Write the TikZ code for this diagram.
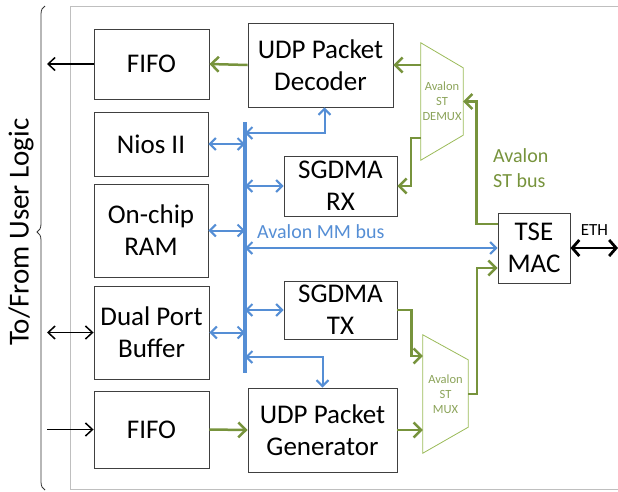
\documentclass[tikz,border=0pt]{standalone}
\usepackage{fontspec}
\setmainfont{Carlito}
\usetikzlibrary{arrows.meta,decorations.pathreplacing}
\definecolor{mmblue}{HTML}{558ED5}
\definecolor{stgreen}{HTML}{77933C}
\definecolor{stlight}{HTML}{9BBB59}

\begin{document}
\begin{tikzpicture}[
    x=1pt, y=-1pt,
    block/.style={rectangle, draw=black!75, line width=0.9pt, inner sep=0pt, align=center, font=\fontsize{27}{32}\selectfont},
    muxbox/.style={rectangle, inner sep=0pt, minimum width=44pt, align=center, text=stgreen!85, font=\fontsize{12.5}{15}\selectfont},
    trap/.style={draw=stlight, line width=0.8pt},
    mmlink/.style={{Straight Barb[length=6pt,width=12pt]}-{Straight Barb[length=6pt,width=12pt]}, mmblue, line width=2pt},
    mmbus/.style={mmblue, line width=4.5pt},
    stlink/.style={-{Straight Barb[length=7.5pt,width=15pt]}, stgreen, line width=2.5pt},
    extlink/.style={-{Straight Barb[length=7pt,width=13pt]}, black, line width=1.5pt},
    extboth/.style={{Straight Barb[length=7pt,width=13pt]}-{Straight Barb[length=7pt,width=13pt]}, black, line width=1.5pt},
    ethlink/.style={{Straight Barb[length=7pt,width=16pt]}-{Straight Barb[length=7pt,width=16pt]}, black, line width=2.8pt}
]
\useasboundingbox (0,0) rectangle (618,491);

% --- Frame and user side ---
\draw[black!25, line width=0.8pt] (70,6) rectangle (640,489);
\draw[black!80, line width=0.8pt, decorate, decoration={brace, amplitude=8pt, aspect=0.533}] (45,490) -- (45,6);
\node[rotate=90, font=\fontsize{29}{34}\selectfont] (userlogic) at (21,232) {To/From User Logic};

% --- Blocks ---
\node[block, minimum width=115pt, minimum height=70pt] (fifoout) at (151.5,64) {FIFO};
\node[block, minimum width=114pt, minimum height=64pt] (nios) at (151,144) {Nios II};
\node[block, minimum width=114pt, minimum height=93pt] (ram) at (151,230.5) {On-chip\\RAM};
\node[block, minimum width=115pt, minimum height=93pt] (dual) at (151.5,332.5) {Dual Port\\Buffer};
\node[block, minimum width=115pt, minimum height=77pt] (fifoin) at (151.5,429.5) {FIFO};
\node[block, minimum width=145pt, minimum height=84pt] (dec) at (320.5,65) {UDP Packet\\Decoder};
\node[block, minimum width=113pt, minimum height=60pt] (rx) at (340.5,186) {SGDMA\\RX};
\node[block, minimum width=113pt, minimum height=58pt] (tx) at (340.5,310) {SGDMA\\TX};
\node[block, minimum width=149pt, minimum height=84pt] (gen) at (322.5,430) {UDP Packet\\Generator};
\node[block, minimum width=72pt, minimum height=70pt] (mac) at (534,248) {TSE\\MAC};

% --- Avalon ST mux/demux ---
\node[muxbox, minimum width=42pt, minimum height=117pt] (demux) at (442,101.5) {Avalon\\ST\\DEMUX};
\node[muxbox, minimum width=45pt, minimum height=118pt] (mux) at (445.5,394) {Avalon\\ST\\MUX};
\draw[trap] (demux.north west) -- (demux.south west) -- ([yshift=25pt]demux.south east) -- ([yshift=-25pt]demux.north east) -- cycle;
\draw[trap] (mux.north west) -- (mux.south west) -- ([yshift=26pt]mux.south east) -- ([yshift=-25pt]mux.north east) -- cycle;

% --- Avalon MM bus ---
\coordinate (bustop) at (245,122);
\coordinate (busbot) at (245,373);
\draw[mmbus] (bustop) -- (busbot);
\foreach \b in {nios,ram,dual}
    \draw[mmlink] (\b.east) -- (bustop |- \b.east);
\foreach \b in {rx,tx}
    \draw[mmlink] (\b.west) -- (bustop |- \b.west);
\draw[mmlink] ([xshift=4pt]dec.south) |- ([yshift=-11pt]bustop);
\draw[mmlink] (gen.north) |- ([yshift=16pt]busbot);
\draw[mmlink] (bustop |- mac.west) -- (mac.west);
\node[anchor=base west, text=mmblue, font=\fontsize{20}{24}\selectfont, inner sep=0pt] (mmlabel) at (257,238) {Avalon MM bus};

% --- Avalon ST bus ---
\draw[stlink] (dec.west) -- (fifoout.east);
\draw[stlink] (demux.west |- dec.east) -- (dec.east);
\draw[stlink] ([yshift=-36.5pt]demux.west) -- ++(-10,0) |- (rx.east);
\draw[stlink] ([yshift=24pt]mac.west) -- ++(-21,0) |- (demux.east);
\draw[stlink] (fifoin.east) -- (gen.west);
\draw[stlink] (gen.east) -- (mux.west |- gen.east);
\draw[stlink] (tx.east) -- ++(14,0) |- ([yshift=38pt]mux.west);
\draw[stlink] (mux.east) -- ++(9,0) |- ([yshift=-20pt]mac.west);
\node[anchor=north west, align=left, text=stgreen, font=\fontsize{20}{25}\selectfont, inner sep=0pt] (stlabel) at (493,148) {Avalon\\ST bus};

% --- External links ---
\coordinate (ext) at (47,0);
\coordinate (eth) at (618,248);
\draw[extlink] (fifoout.west) -- (ext |- fifoout.west);
\draw[extboth] (dual.west) -- (ext |- dual.west);
\draw[extlink] (ext |- fifoin.west) -- (fifoin.west);
\draw[ethlink] (mac.east) -- (eth);
\node[anchor=base, font=\fontsize{17}{20}\selectfont, inner sep=0pt] (ethlabel) at (594.5,235) {ETH};

\end{tikzpicture}
\end{document}
